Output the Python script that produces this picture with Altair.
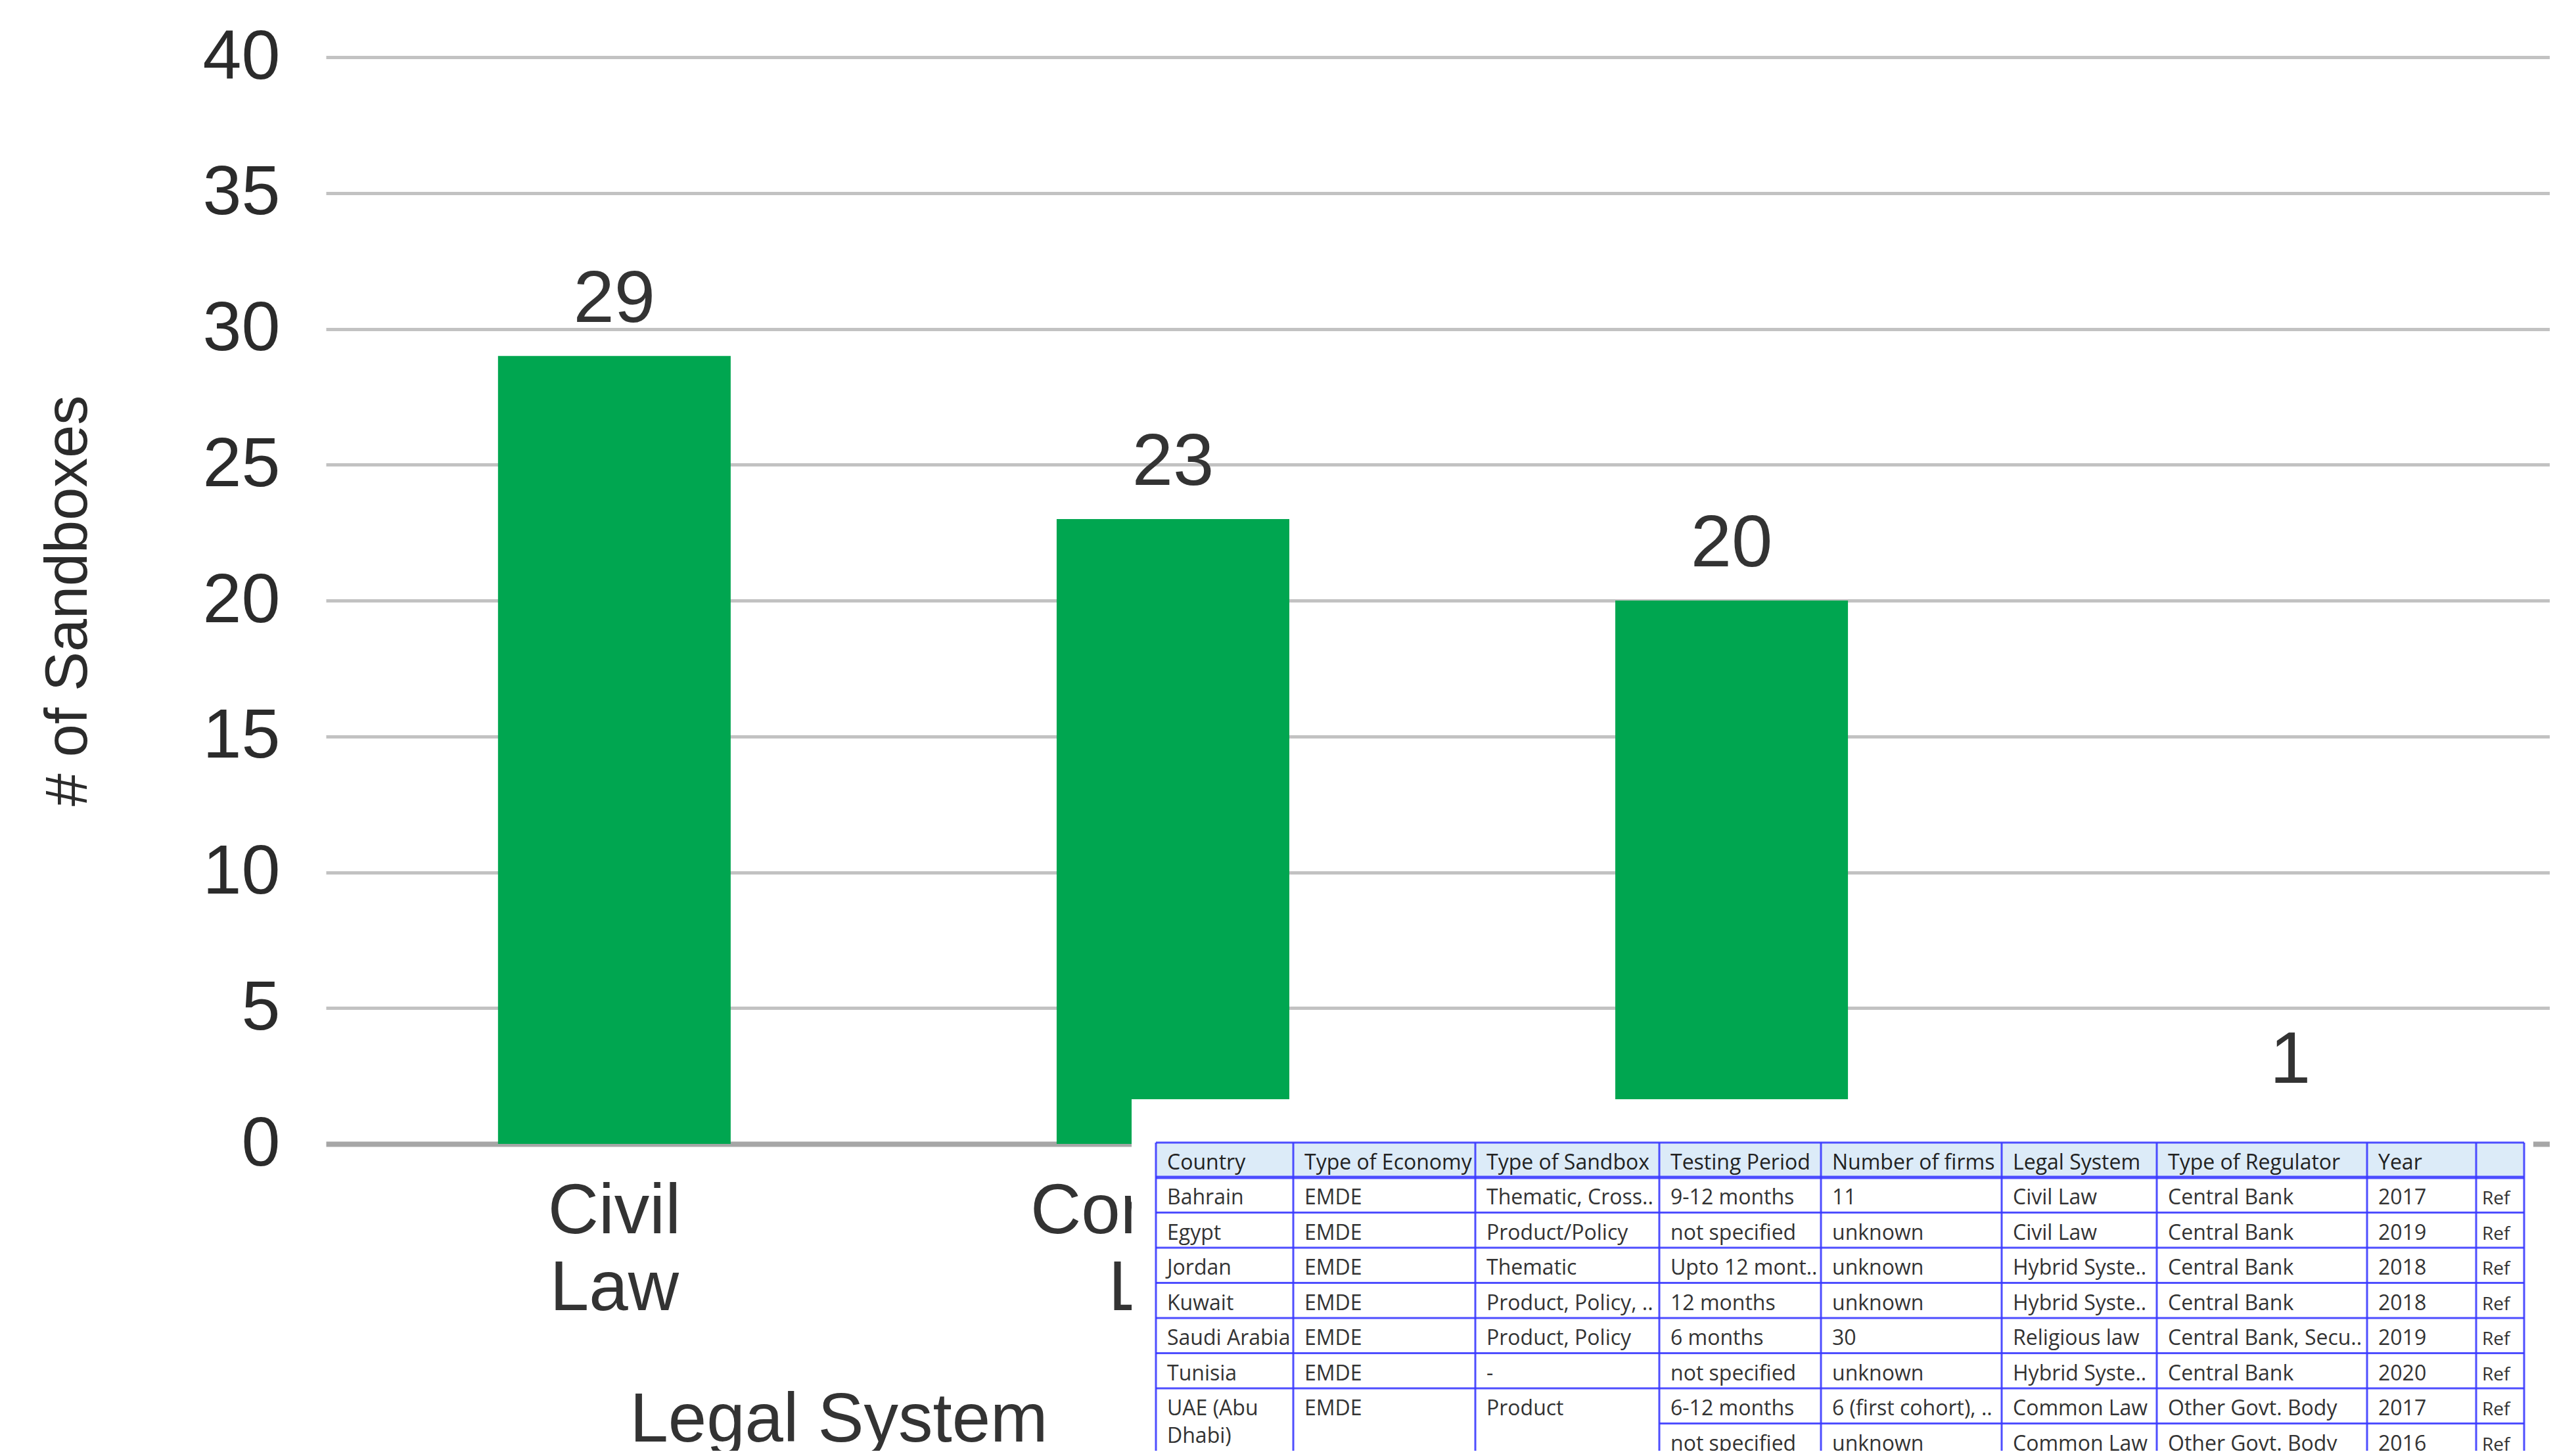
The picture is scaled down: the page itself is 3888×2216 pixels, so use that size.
import altair as alt
import pandas as pd

# ---------------- data ----------------
legal_systems = ["Civil Law", "Common Law", "Hybrid System", "Religious Law"]
sandbox_counts = [29, 23, 20, 1]

table_headers = ["Country", "Type of Economy", "Type of Sandbox", "Testing Period",
                 "Number of firms", "Legal System", "Type of Regulator", "Year", ""]
col_country = ["Bahrain", "Egypt", "Jordan", "Kuwait", "Saudi Arabia", "Tunisia", "UAE (Abu\nDhabi)", ""]
col_economy = ["EMDE", "EMDE", "EMDE", "EMDE", "EMDE", "EMDE", "EMDE", ""]
col_sandbox = ["Thematic, Cross..", "Product/Policy", "Thematic", "Product, Policy, ..",
               "Product, Policy", "-", "Product", ""]
col_testing = ["9-12 months", "not specified", "Upto 12 mont..", "12 months", "6 months",
               "not specified", "6-12 months", "not specified"]
col_firms = ["11", "unknown", "unknown", "unknown", "30", "unknown", "6 (first cohort), ..", "unknown"]
col_legal = ["Civil Law", "Civil Law", "Hybrid Syste..", "Hybrid Syste..", "Religious law",
             "Hybrid Syste..", "Common Law", "Common Law"]
col_regulator = ["Central Bank", "Central Bank", "Central Bank", "Central Bank", "Central Bank, Secu..",
                 "Central Bank", "Other Govt. Body", "Other Govt. Body"]
col_year = ["2017", "2019", "2018", "2018", "2019", "2020", "2017", "2016"]
col_ref = ["Ref", "Ref", "Ref", "Ref", "Ref", "Ref", "Ref", "Ref"]
table_columns = [col_country, col_economy, col_sandbox, col_testing, col_firms,
                 col_legal, col_regulator, col_year, col_ref]

# ---------------- layout (page pixels) ----------------
PLOT_LEFT, PLOT_TOP = 496, 87
PLOT_W, PLOT_H = 3384, 1654
X_RANGE_END = 3428
COL_EDGES = [1759, 1968, 2245, 2525, 2771, 3046, 3282, 3602, 3768, 3841]
ROW_EDGES = [1739, 1792, 1845.5, 1899, 1952.5, 2006, 2059.5, 2113, 2166.5, 2220]
WHITE_BOX = [1722, 1673, 3855, 2240]
TEXT_PAD_X, TEXT_BASE_Y = 17, 41

GREEN = "#00A650"
LINE_BLUE = "#3b3bff"
HEADER_BG = "#dcebf8"
FONT = "Liberation Sans"
TFONT = "Open Sans"

# ---------------- bar chart ----------------
df = pd.DataFrame({"system": legal_systems, "count": sandbox_counts})

x_enc = alt.X(
    "system:N", sort=legal_systems,
    scale=alt.Scale(domain=legal_systems, range=[0, X_RANGE_END],
                    paddingInner=0.5835, paddingOuter=0.308),
    axis=alt.Axis(
        title="Legal System", domain=False, ticks=False, grid=False, zindex=0,
        labelExpr="split(datum.label, ' ')", labelAngle=0,
        labelFont=FONT, labelFontSize=107, labelLineHeight=117, labelColor="#333333",
        labelPadding=50, labelLimit=2000, labelOverlap=False,
        titleFont=FONT, titleFontSize=105, titleFontWeight="normal", titleColor="#333333",
        titleX=1276 - PLOT_LEFT, titleY=2193 - (PLOT_TOP + PLOT_H),
        titleAlign="center", titleBaseline="alphabetic",
    ),
)
y_enc = alt.Y(
    "count:Q",
    scale=alt.Scale(domain=[0, 40], nice=False),
    axis=alt.Axis(
        title="# of Sandboxes", values=[0, 5, 10, 15, 20, 25, 30, 35, 40],
        domain=False, ticks=False, zindex=0,
        grid=True,
        gridColor={"condition": {"test": "datum.value === 0", "value": "#a6a6a6"}, "value": "#c2c2c2"},
        gridWidth={"condition": {"test": "datum.value === 0", "value": 8}, "value": 5},
        labelFont=FONT, labelFontSize=106, labelColor="#2b2b2b", labelPadding=70,
        labelLimit=1000,
        titleFont=FONT, titleFontSize=90,
        titleFontWeight="normal", titleColor="#2b2b2b",
        titleAngle=270, titleAlign="center", titleBaseline="middle",
        titleX=104 - PLOT_LEFT, titleY=PLOT_H / 2,
    ),
)

bars = alt.Chart(df).mark_bar(color=GREEN).encode(x=x_enc, y=y_enc)
labels = alt.Chart(df).mark_text(
    dy=-52, baseline="alphabetic", align="center", font=FONT, fontSize=112, color="#333333"
).encode(x=alt.X("system:N", sort=legal_systems), y="count:Q", text="count:Q")
bar_layer = alt.layer(bars, labels)

# ---------------- table overlay ----------------
sx = alt.Scale(domain=[0, PLOT_W], range=[0, PLOT_W], nice=False, zero=False)
sy = alt.Scale(domain=[0, PLOT_H], range=[0, PLOT_H], nice=False, zero=False)

def px(v):
    return v - PLOT_LEFT

def py(v):
    return v - PLOT_TOP

box_df = pd.DataFrame([{"x": px(WHITE_BOX[0]), "x2": px(WHITE_BOX[2]),
                        "y": py(WHITE_BOX[1]), "y2": py(WHITE_BOX[3])}])
white_box = alt.Chart(box_df).mark_rect(color="white").encode(
    x=alt.X("x:Q", scale=sx, axis=None), x2="x2:Q",
    y=alt.Y("y:Q", scale=sy, axis=None), y2="y2:Q")

head_df = pd.DataFrame([{"x": px(COL_EDGES[0]), "x2": px(COL_EDGES[-1]),
                         "y": py(ROW_EDGES[0]), "y2": py(ROW_EDGES[1])}])
head_bg = alt.Chart(head_df).mark_rect(color=HEADER_BG).encode(
    x=alt.X("x:Q", scale=sx, axis=None), x2="x2:Q",
    y=alt.Y("y:Q", scale=sy, axis=None), y2="y2:Q")

rules = []
for i, ry in enumerate(ROW_EDGES):
    x_start = COL_EDGES[3] if i == 8 else COL_EDGES[0]
    rules.append({"x": px(x_start), "x2": px(COL_EDGES[-1]), "y": py(ry), "y2": py(ry),
                  "w": 5 if i == 1 else 3})
for cx in COL_EDGES:
    rules.append({"x": px(cx), "x2": px(cx), "y": py(ROW_EDGES[0]), "y2": py(ROW_EDGES[-1]), "w": 3})
rule_df = pd.DataFrame(rules)
grid_lines = alt.Chart(rule_df).mark_rule(color=LINE_BLUE, opacity=0.9).encode(
    x=alt.X("x:Q", scale=sx, axis=None), x2="x2:Q",
    y=alt.Y("y:Q", scale=sy, axis=None), y2="y2:Q",
    strokeWidth=alt.StrokeWidth("w:Q", scale=None))

cells = []
for c, head in enumerate(table_headers):
    cells.append({"x": px(COL_EDGES[c] + TEXT_PAD_X), "y": py(ROW_EDGES[0] + TEXT_BASE_Y),
                  "t": head, "fs": 32, "col": "#222222"})
    for r, val in enumerate(table_columns[c]):
        cells.append({"x": px(COL_EDGES[c] + TEXT_PAD_X - (8 if c == 8 else 0)),
                      "y": py(ROW_EDGES[r + 1] + TEXT_BASE_Y),
                      "t": val, "fs": 28 if c == 8 else 32, "col": "#333333"})
cell_df = pd.DataFrame(cells)
cell_text = alt.Chart(cell_df).mark_text(
    align="left", baseline="alphabetic", font=TFONT, lineBreak="\n", lineHeight=42
).encode(
    x=alt.X("x:Q", scale=sx, axis=None),
    y=alt.Y("y:Q", scale=sy, axis=None),
    text="t:N",
    size=alt.Size("fs:Q", scale=None),
    color=alt.Color("col:N", scale=None))

table_layer = alt.layer(white_box, head_bg, grid_lines, cell_text)

chart = alt.layer(bar_layer, table_layer).resolve_scale(
    x="independent", y="independent"
).properties(
    width=PLOT_W, height=PLOT_H,
    autosize=alt.AutoSizeParams(type="none"),
    padding={"left": PLOT_LEFT - 8, "top": PLOT_TOP - 8, "right": 0,
             "bottom": 2200 - (PLOT_TOP - 8) - PLOT_H},
    background="white",
).configure_view(stroke=None)

chart.save("out.html", embed_options={"renderer": "svg", "actions": False})
